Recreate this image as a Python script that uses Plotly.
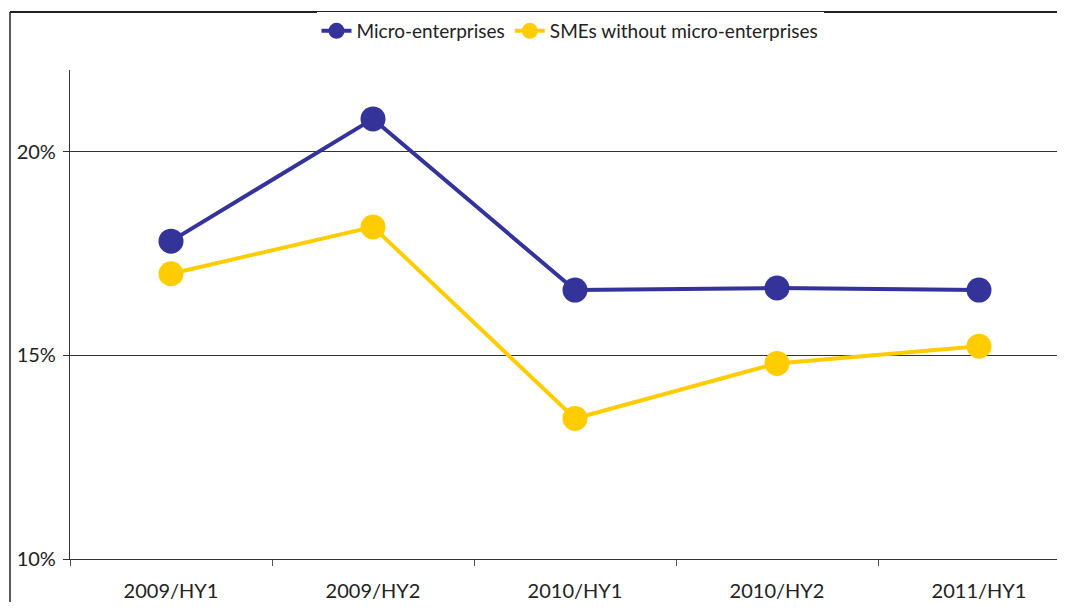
import plotly.graph_objects as go

categories = ["2009/HY1", "2009/HY2", "2010/HY1", "2010/HY2", "2011/HY1"]
micro = [17.8, 20.8, 16.6, 16.65, 16.6]
smes = [17.0, 18.15, 13.45, 14.8, 15.22]
y_ticks = [10, 15, 20]
y_tick_labels = ["10%", "15%", "20%"]

FONT = "Lato, 'Open Sans', sans-serif"

fig = go.Figure()
fig.add_trace(go.Scatter(x=categories, y=micro, name="Micro-enterprises", mode="lines+markers",
                         line=dict(color="#333399", width=4), marker=dict(size=25, color="#333399")))
fig.add_trace(go.Scatter(x=categories, y=smes, name="SMEs without micro-enterprises", mode="lines+markers",
                         line=dict(color="#FFCC00", width=4), marker=dict(size=25, color="#FFCC00")))

# page body has an 8px margin; lay out in figure coordinates accordingly
OFF = 8
W, H = 1065 - OFF, 610 - 2 * OFF
L, T = 70 - OFF, 70 - OFF
bottom = 559 - OFF
B = H - bottom
pw = W - L
ph = bottom - T

def py(screen_y):
    return (bottom - (screen_y - OFF)) / ph

def px(screen_x):
    return ((screen_x - OFF) - L) / pw

fig.update_layout(
    width=W, height=H,
    margin=dict(l=L, r=0, t=T, b=B),
    paper_bgcolor="white", plot_bgcolor="white",
    font=dict(family=FONT, size=20, color="#222222"),
    showlegend=True,
    legend=dict(orientation="h", x=px(570), xanchor="center", y=py(31), yanchor="middle",
                font=dict(size=19), tracegroupgap=0),
    xaxis=dict(type="category", range=[-0.5, -0.5 + pw / 202.0], showgrid=False,
               showline=True, linecolor="#333333", linewidth=1.2,
               ticks="outside", tickson="boundaries", ticklen=6, tickcolor="#555555",
               tickfont=dict(size=20), ticklabelstandoff=14, fixedrange=True),
    yaxis=dict(range=[10, 22], tickvals=y_ticks, ticktext=y_tick_labels, showgrid=True,
               gridcolor="#333333", gridwidth=1, showline=True, linecolor="#333333", linewidth=1.2,
               ticks="outside", ticklen=6, tickcolor="#333333", zeroline=False,
               tickfont=dict(size=20), ticklabelstandoff=3),
)

# outer frame (top and left edges)
fig.add_shape(type="line", xref="paper", yref="paper",
              x0=px(10), x1=1.02, y0=py(12), y1=py(12),
              line=dict(color="#222222", width=2))
fig.add_shape(type="line", xref="paper", yref="paper",
              x0=px(10), x1=px(10), y0=py(12), y1=-0.2,
              line=dict(color="#222222", width=1.5))

fig.write_html("out.html")
